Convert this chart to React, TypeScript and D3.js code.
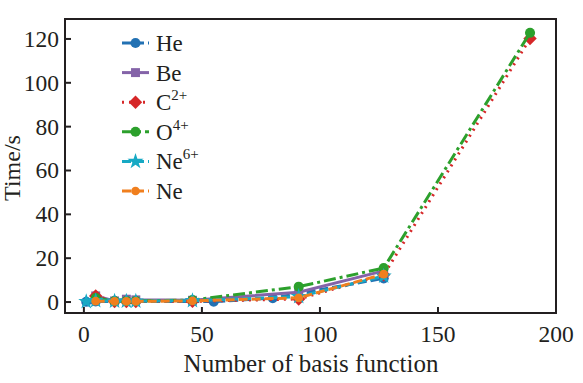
import React from "react";
import * as d3 from "d3";

const xTicks = [0, 50, 100, 150, 200];
const yTicks = [0, 20, 40, 60, 80, 100, 120];

const heX = [1, 5, 13, 55, 80, 127];
const heY = [0.1, 0.3, 0.3, 0.2, 1.8, 10.8];
const beX = [5, 13, 18, 22, 46, 91, 127];
const beY = [2.8, 0.5, 1.3, 1.0, 0.8, 4.5, 14.2];
const cX = [5, 13, 18, 22, 46, 91, 127, 189];
const cY = [2.8, 0.2, 0.2, 0.2, 0.3, 1.4, 12.4, 120.2];
const oX = [5, 13, 18, 22, 46, 91, 127, 189];
const oY = [1.8, 0.4, 0.5, 0.5, 0.9, 7.0, 15.5, 122.8];
const ne6X = [1, 5, 13, 18, 22, 46, 91, 127];
const ne6Y = [0.2, 0.6, 0.4, 0.4, 0.4, 0.6, 2.5, 11.8];
const neX = [5, 13, 18, 22, 46, 91, 127];
const neY = [0.4, 0.3, 0.3, 0.3, 0.5, 1.9, 12.7];

type S = { name: string; sup?: string; xs: number[]; ys: number[]; color: string; dash: string; sym: d3.SymbolType; size: number; rot: number };

const series: S[] = [
  { name: "He", xs: heX, ys: heY, color: "#2271b3", dash: "9,4", sym: d3.symbolCircle, size: 80, rot: 0 },
  { name: "Be", xs: beX, ys: beY, color: "#8463a8", dash: "", sym: d3.symbolSquare, size: 80, rot: 0 },
  { name: "C", sup: "2+", xs: cX, ys: cY, color: "#d62728", dash: "2,5", sym: d3.symbolSquare, size: 90, rot: 45 },
  { name: "O", sup: "4+", xs: oX, ys: oY, color: "#2ca02c", dash: "12,4,3,4", sym: d3.symbolCircle, size: 80, rot: 0 },
  { name: "Ne", sup: "6+", xs: ne6X, ys: ne6Y, color: "#17a9c4", dash: "9,4", sym: d3.symbolStar, size: 80, rot: 0 },
  { name: "Ne", xs: neX, ys: neY, color: "#f07f1e", dash: "9,4", sym: d3.symbolCircle, size: 60, rot: 0 },
];

export default function App() {
  const W = 583, H = 383;
  const L = 65, R = 556, T = 19, B = 313;
  const x = d3.scaleLinear().domain([-8, 200]).range([L, R]);
  const y = d3.scaleLinear().domain([-5, 129.1]).range([B, T]);
  const font = "'Liberation Serif', 'Times New Roman', serif";
  const ink = "#231f20";
  return (
    <svg width={W} height={H} style={{ position: "absolute", left: 0, top: 0 }} fontFamily={font}>
      <rect width={W} height={H} fill="#fff" />
      {series.map((s, i) => {
        const line = d3.line<number>().x((_, j) => x(s.xs[j])).y((_, j) => y(s.ys[j]));
        return (
          <g key={i}>
            <path d={line(s.xs) || ""} fill="none" stroke={s.color} strokeWidth={3} strokeDasharray={s.dash} />
            {s.xs.map((v, j) => (
              <path key={j} d={d3.symbol().type(s.sym).size(s.size)() || ""} transform={`translate(${x(v)},${y(s.ys[j])}) rotate(${s.rot})`} fill={s.color} />
            ))}
          </g>
        );
      })}
      <rect x={L} y={T} width={R - L} height={B - T} fill="none" stroke={ink} strokeWidth={2} />
      {xTicks.map((t) => (
        <g key={t}>
          <line x1={x(t)} x2={x(t)} y1={B} y2={B - 6} stroke={ink} strokeWidth={2} />
          <text x={x(t)} y={342} textAnchor="middle" fontSize={23.5} fill={ink}>{t}</text>
        </g>
      ))}
      {yTicks.map((t) => (
        <g key={t}>
          <line x1={L} x2={L + 6} y1={y(t)} y2={y(t)} stroke={ink} strokeWidth={2} />
          <text x={59} y={y(t) + 8} textAnchor="end" fontSize={23.5} fill={ink}>{t}</text>
        </g>
      ))}
      <text x={311} y={372} textAnchor="middle" fontSize={25} fill={ink}>Number of basis function</text>
      <text transform="translate(20,168) rotate(-90)" textAnchor="middle" fontSize={24} fill={ink}>Time/s</text>
      {series.map((s, i) => {
        const cy = 43 + i * 29.6;
        return (
          <g key={"l" + i}>
            <line x1={122} x2={149} y1={cy} y2={cy} stroke={s.color} strokeWidth={3} strokeDasharray={s.dash} />
            <path d={d3.symbol().type(s.sym).size(s.size)() || ""} transform={`translate(135.5,${cy}) rotate(${s.rot})`} fill={s.color} />
            <text x={156} y={cy + 8} fontSize={23} fill={ink}>
              {s.name}
              {s.sup && <tspan fontSize={15} dy={-10}>{s.sup}</tspan>}
            </text>
          </g>
        );
      })}
    </svg>
  );
}
